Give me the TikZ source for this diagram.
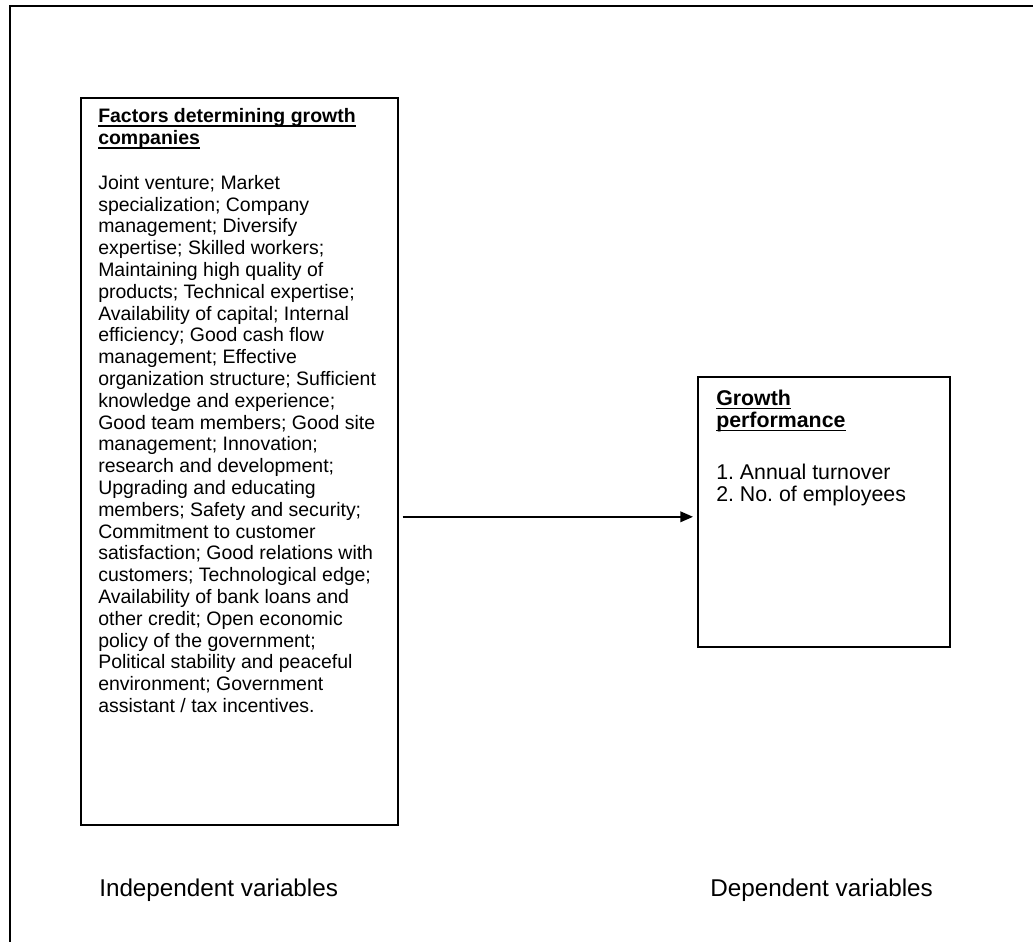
\documentclass[tikz,border=0pt]{standalone}
\usepackage{fontspec}
\setmainfont{Liberation Sans}
\usetikzlibrary{arrows.meta}
\frenchspacing

\newcommand{\headline}[1]{\setbox0=\hbox{\bfseries #1}\rlap{\rule[-3.1pt]{\wd0}{1.1pt}}\box0}

\begin{document}
\begin{tikzpicture}[
        x=0.75pt, y=-0.75pt,
        frame/.style={line width=1.2pt},
        box/.style={rectangle, draw, line width=1.2pt, inner sep=0pt, anchor=north west},
        boxtext/.style={anchor=base west, inner sep=0pt, align=left, font=\fontsize{14.6pt}{16.35pt}\selectfont},
        caption/.style={anchor=base west, inner sep=0pt, font=\fontsize{18.2pt}{20pt}\selectfont},
        arrow/.style={-{Triangle[length=9.5pt, width=8pt]}, line width=1.2pt, shorten <=3pt, shorten >=3pt}
    ]
        \useasboundingbox (0,0) rectangle (1033,942);

        % Frame
        \draw[frame] (10,942) -- (10,6) -- (1033,6);

        % Blocks
        \node[box, minimum width=237.75pt, minimum height=545.25pt] (factors) at (80,97) {};
        \node[box, minimum width=189pt, minimum height=202.5pt] (growth) at (697,376) {};

        % Box texts (placed by the baseline of their last line)
        \node[boxtext] (factorstext) at (98,712.5) {\headline{Factors determining growth}\\
            \headline{companies}\\[17.3pt]
            Joint venture; Market\\
            specialization; Company\\
            management; Diversify\\
            expertise; Skilled workers;\\
            Maintaining high quality of\\
            products; Technical expertise;\\
            Availability of capital; Internal\\
            efficiency; Good cash flow\\
            management; Effective\\
            organization structure; Sufficient\\
            knowledge and experience;\\
            Good team members; Good site\\
            management; Innovation;\\
            research and development;\\
            Upgrading and educating\\
            members; Safety and security;\\
            Commitment to customer\\
            satisfaction; Good relations with\\
            customers; Technological edge;\\
            Availability of bank loans and\\
            other credit; Open economic\\
            policy of the government;\\
            Political stability and peaceful\\
            environment; Government\\
            assistant / tax incentives.};
        \node[boxtext, font=\fontsize{16pt}{16.5pt}\selectfont] (growthtext) at (716,501) {\headline{Growth}\\
            \headline{performance}\\[22.3pt]
            1. Annual turnover\\
            2. No. of employees};

        % Captions
        \node[caption] (indep) at (99,896) {Independent variables};
        \node[caption] (dep) at (710,896) {Dependent variables};

        % Arrows
        \draw[arrow] ([yshift=-3.75pt]factors.east |- growth.west) -- ([yshift=-3.75pt]growth.west);

    \end{tikzpicture}
\end{document}
